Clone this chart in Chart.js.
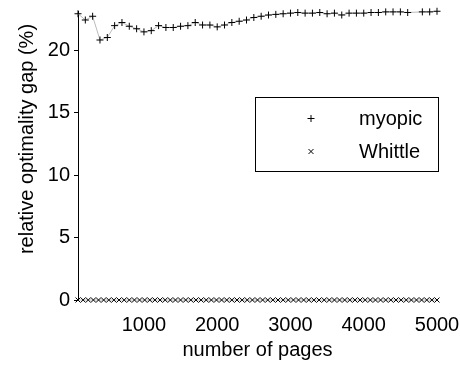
<!DOCTYPE html>
<html>
<head>
<meta charset="utf-8">
<script src="https://cdn.jsdelivr.net/npm/chart.js@4/dist/chart.umd.min.js"></script>
<style>
  body { margin: 0; background: #fff; }
  #wrap { width: 460px; height: 366px; }
</style>
</head>
<body>
<div id="wrap"><canvas id="gapChart" width="460" height="366"></canvas></div>
<script>
const myopicPages = [100, 200, 300, 400, 500, 600, 700, 800, 900, 1000,
  1100, 1200, 1300, 1400, 1500, 1600, 1700, 1800, 1900, 2000,
  2100, 2200, 2300, 2400, 2500, 2600, 2700, 2800, 2900, 3000,
  3100, 3200, 3300, 3400, 3500, 3600, 3700, 3800, 3900, 4000,
  4100, 4200, 4300, 4400, 4500, 4600, 4800, 4900, 5000]
const myopicGap = [22.9, 22.4, 22.7, 20.8, 21.0, 21.95, 22.2, 21.9, 21.7, 21.45,
  21.55, 21.95, 21.8, 21.8, 21.9, 21.95, 22.2, 22.0, 22.0, 21.85,
  22.0, 22.2, 22.3, 22.4, 22.6, 22.7, 22.8, 22.85, 22.9, 22.95,
  23.0, 22.95, 22.95, 23.0, 22.9, 22.95, 22.8, 22.95, 22.95, 22.95,
  23.0, 23.0, 23.05, 23.05, 23.05, 23.0, 23.05, 23.05, 23.1]

const whittlePages = [100, 170, 240, 310, 380, 450, 520, 590, 660, 730,
  800, 870, 940, 1010, 1080, 1150, 1220, 1290, 1360, 1430,
  1500, 1570, 1640, 1710, 1780, 1850, 1920, 1990, 2060, 2130,
  2200, 2270, 2340, 2410, 2480, 2550, 2620, 2690, 2760, 2830,
  2900, 2970, 3040, 3110, 3180, 3250, 3320, 3390, 3460, 3530,
  3600, 3670, 3740, 3810, 3880, 3950, 4020, 4090, 4160, 4230,
  4300, 4370, 4440, 4510, 4580, 4650, 4720, 4790, 4860, 4930, 5000]
const whittleGap = [0, 0, 0, 0, 0, 0, 0, 0, 0, 0,
  0, 0, 0, 0, 0, 0, 0, 0, 0, 0,
  0, 0, 0, 0, 0, 0, 0, 0, 0, 0,
  0, 0, 0, 0, 0, 0, 0, 0, 0, 0,
  0, 0, 0, 0, 0, 0, 0, 0, 0, 0,
  0, 0, 0, 0, 0, 0, 0, 0, 0, 0,
  0, 0, 0, 0, 0, 0, 0, 0, 0, 0, 0]

const xTicks = [1000, 2000, 3000, 4000, 5000]
const yTicks = [0, 5, 10, 15, 20]
const seriesNames = ['myopic', 'Whittle']

const FONT = "'Liberation Sans', Arial, sans-serif"
Chart.defaults.font.family = FONT
Chart.defaults.font.size = 20
Chart.defaults.color = '#000'

const toPoints = (xs, ys) => xs.map((x, i) => ({ x: x, y: ys[i] }))

// y title and the boxed legend inside the plot
const extras = {
  id: 'extras',
  afterDraw(chart) {
    const c = chart.ctx
    c.save()
    c.fillStyle = '#000'
    c.font = '20px ' + FONT
    c.textAlign = 'center'
    c.textBaseline = 'alphabetic'
    c.translate(33, 139)
    c.rotate(-Math.PI / 2)
    c.fillText('relative optimality gap (%)', 0, 0)
    c.restore()

    c.save()
    c.strokeStyle = '#000'
    c.lineWidth = 1
    c.fillStyle = '#fff'
    c.fillRect(255.5, 97.5, 183, 74)
    c.strokeRect(255.5, 97.5, 183, 74)
    c.fillStyle = '#000'
    c.font = '20px ' + FONT
    c.textAlign = 'left'
    c.textBaseline = 'alphabetic'
    c.fillText(seriesNames[0], 359, 125)
    c.fillText(seriesNames[1], 359, 158)
    Chart.helpers.drawPoint(c, { pointStyle: 'cross', radius: 3.5, borderWidth: 1 }, 311, 118.5)
    Chart.helpers.drawPoint(c, { pointStyle: 'crossRot', radius: 3.5, borderWidth: 1 }, 311, 151.5)
    c.restore()
  }
}

const chart = new Chart(document.getElementById('gapChart'), {
  type: 'scatter',
  data: {
    datasets: [
      {
        label: seriesNames[0],
        data: toPoints(myopicPages, myopicGap),
        showLine: true,
        borderColor: '#bbb',
        borderWidth: 1,
        pointStyle: 'cross',
        pointRadius: 3.5,
        pointBorderColor: '#000',
        pointBorderWidth: 1,
        pointBackgroundColor: '#000',
        clip: false
      },
      {
        label: seriesNames[1],
        data: toPoints(whittlePages, whittleGap),
        showLine: true,
        borderColor: '#bbb',
        borderWidth: 1,
        pointStyle: 'crossRot',
        pointRadius: 3.5,
        pointBorderColor: '#000',
        pointBorderWidth: 1,
        pointBackgroundColor: '#000',
        clip: false
      }
    ]
  },
  options: {
    responsive: false,
    animation: false,
    layout: { padding: { top: 11, right: 23, left: 0, bottom: 0 } },
    scales: {
      x: {
        type: 'linear',
        min: 100,
        max: 5000,
        afterFit: (s) => {
          s.height = 66
          s.paddingLeft = 0
          s.paddingRight = 0
        },
        afterBuildTicks: (s) => { s.ticks = xTicks.map((v) => ({ value: v })) },
        border: { display: false },
        grid: { display: false, drawTicks: false },
        ticks: {
          padding: 13,
          maxRotation: 0,
          autoSkip: false,
          callback: (v) => String(v)
        },
        title: {
          display: true,
          text: 'number of pages',
          padding: { top: 0, bottom: 4 }
        }
      },
      y: {
        min: 0,
        max: 23.12,
        afterFit: (s) => {
          s.width = 78
          s.paddingTop = 0
          s.paddingBottom = 0
        },
        afterBuildTicks: (s) => { s.ticks = yTicks.map((v) => ({ value: v })) },
        border: { display: true, color: '#000', width: 1 },
        grid: { display: true, drawOnChartArea: false, drawTicks: true, tickLength: 4, color: '#000' },
        ticks: { padding: 4, callback: (v) => String(v) }
      }
    },
    plugins: {
      legend: { display: false },
      tooltip: { enabled: false }
    }
  },
  plugins: [extras]
})
</script>
</body>
</html>
